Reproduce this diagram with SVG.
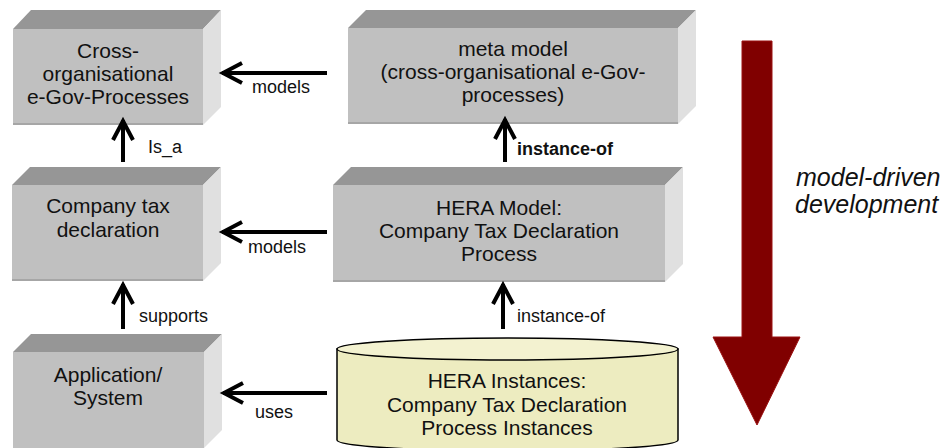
<svg xmlns="http://www.w3.org/2000/svg" width="950" height="448" viewBox="0 0 950 448">
<defs>
<style>
text{font-family:"Liberation Sans",Arial,sans-serif;fill:#111}
.bt{font-size:21px;text-anchor:middle}
.lb{font-size:18px}
.bold{font-weight:bold}
.front{fill:#c0c0c0}
.top{fill:#969696}
.side{fill:#e0e0e0}
.edge{stroke:#a6a6a6;stroke-width:2}
.conn{fill:none;stroke:#000;stroke-width:4}
.cyl{fill:#edecc0;stroke:#000;stroke-width:1.5}
.cyltop{fill:#f3f2d0;stroke:#000;stroke-width:1.5}
.mdd{font-size:25px;font-style:italic}
</style>
<marker id="chev" markerUnits="userSpaceOnUse" markerWidth="30" markerHeight="30" viewBox="-26 -15 30 30" refX="0" refY="0" orient="auto">
<path d="M-20 -10 L-1 0 L-20 10" fill="none" stroke="#000" stroke-width="4"/>
</marker>
</defs>
<rect width="950" height="448" fill="#fff"/>

<g id="cross-org">
<polygon class="top" points="13,29 31,10 221,10 203,29"/>
<polygon class="side" points="203,29 221,10 221,107 203,125"/>
<rect class="front" x="13" y="29" width="190" height="96"/>
<line class="edge" x1="13" y1="124" x2="203" y2="124"/>
<text class="bt" x="108" y="58">Cross-</text>
<text class="bt" x="108" y="81">organisational</text>
<text class="bt" x="108" y="104">e-Gov-Processes</text>
</g>

<g id="meta-model">
<polygon class="top" points="348,28 366,10 696,10 678,28"/>
<polygon class="side" points="678,28 696,10 696,106 678,124"/>
<rect class="front" x="348" y="28" width="330" height="96"/>
<line class="edge" x1="348" y1="123" x2="678" y2="123"/>
<text class="bt" x="513" y="56">meta model</text>
<text class="bt" x="513" y="79">(cross-organisational e-Gov-</text>
<text class="bt" x="513" y="102">processes)</text>
</g>

<g id="company-tax">
<polygon class="top" points="12,185 30,167 221,167 203,185"/>
<polygon class="side" points="203,185 221,167 221,263 203,281"/>
<rect class="front" x="12" y="185" width="191" height="96"/>
<line class="edge" x1="12" y1="280" x2="203" y2="280"/>
<text class="bt" x="108" y="213">Company tax</text>
<text class="bt" x="108" y="237">declaration</text>
</g>

<g id="hera-model">
<polygon class="top" points="333,185 351,167 683,167 665,185"/>
<polygon class="side" points="665,185 683,167 683,264 665,282"/>
<rect class="front" x="333" y="185" width="332" height="97"/>
<line class="edge" x1="333" y1="281" x2="665" y2="281"/>
<text class="bt" x="499" y="215">HERA Model:</text>
<text class="bt" x="499" y="238">Company Tax Declaration</text>
<text class="bt" x="499" y="261">Process</text>
</g>

<g id="application">
<polygon class="top" points="13,352 31,334 222,334 204,352"/>
<polygon class="side" points="204,352 222,334 222,430 204,448"/>
<rect class="front" x="13" y="352" width="191" height="96"/>
<text class="bt" x="108" y="382">Application/</text>
<text class="bt" x="108" y="405">System</text>
</g>

<g id="hera-instances">
<path class="cyl" d="M337,349 V440 A170.5,11 0 0 0 678,440 V349 Z"/>
<ellipse class="cyltop" cx="507.5" cy="349" rx="170.5" ry="11"/>
<text class="bt" x="507" y="388">HERA Instances:</text>
<text class="bt" x="507" y="412">Company Tax Declaration</text>
<text class="bt" x="507" y="435">Process Instances</text>
</g>

<g id="connectors">
<path class="conn" d="M327,73 H222" marker-end="url(#chev)"/>
<path class="conn" d="M123,162 V120" marker-end="url(#chev)"/>
<path class="conn" d="M327,232 H222" marker-end="url(#chev)"/>
<path class="conn" d="M123,329 V284" marker-end="url(#chev)"/>
<path class="conn" d="M327,393 H223" marker-end="url(#chev)"/>
<path class="conn" d="M505,162 V119" marker-end="url(#chev)"/>
<path class="conn" d="M503,329 V284" marker-end="url(#chev)"/>
<text class="lb" x="252" y="93">models</text>
<text class="lb" x="148" y="153">Is_a</text>
<text class="lb" x="248" y="253">models</text>
<text class="lb" x="139" y="322">supports</text>
<text class="lb" x="255" y="418">uses</text>
<text class="lb bold" x="517" y="155">instance-of</text>
<text class="lb" x="517" y="322">instance-of</text>
</g>

<g id="mdd-arrow">
<polygon points="742,41 772,41 772,337 800,337 757,425 713,337 742,337" fill="#800000" stroke="#9a1010" stroke-width="1"/>
<text class="mdd" x="796" y="186">model-driven</text>
<text class="mdd" x="795" y="213">development</text>
</g>
</svg>
